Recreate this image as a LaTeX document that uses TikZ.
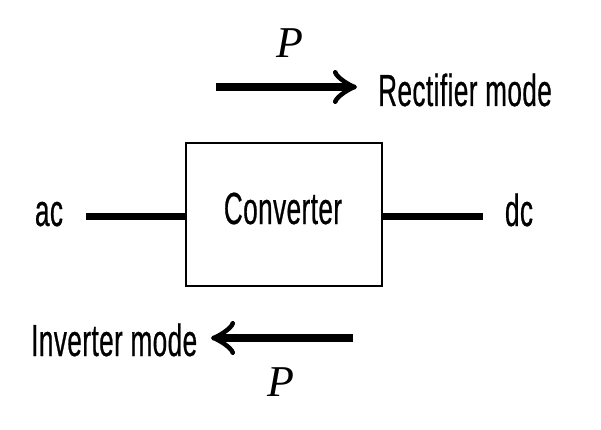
\documentclass[tikz,border=0pt]{standalone}
\usepackage{fontspec}
\usetikzlibrary{arrows.meta}
\newfontfamily\condfont[FakeStretch=0.58,FakeBold=0.5,LetterSpace=1]{Liberation Sans}
\newfontfamily\pserif{Liberation Serif}
\begin{document}
\begin{tikzpicture}[x=1pt,y=-1pt,
  lbl/.style={font=\condfont\fontsize{45}{48}\selectfont, inner sep=0pt},
  plbl/.style={font=\pserif\itshape\fontsize{44}{46}\selectfont, inner sep=0pt},
  wire/.style={line width=7pt},
  flow/.style={line width=7.5pt, -{Classical TikZ Rightarrow[length=24pt,width=34pt,line width=4.5pt]}},
  box/.style={draw, line width=2.5pt, minimum width=196pt, minimum height=143pt, inner sep=0pt}]
\useasboundingbox (0,0) rectangle (601,430);
% converter box
\node[box] (conv) at (284,214.5) {};
\node[lbl, anchor=base] (convtxt) at (283,224) {Converter};
% ac / dc
\node[lbl, anchor=base] (ac) at (49,226) {ac};
\node[lbl, anchor=base] (dc) at (519,226) {dc};
\coordinate (acend) at (86,216);
\coordinate (dcend) at (483,216);
\draw[wire] (acend) -- (acend -| conv.west);
\draw[wire] (dcend -| conv.east) -- (dcend);
% rectifier mode
\coordinate (r1) at (216,87);
\coordinate (r2) at (357,87);
\draw[flow] (r1) -- (r2);
\node[lbl, anchor=base west] (rect) at (378,106) {Rectifier mode};
\node[plbl, anchor=base] (ptop) at (290,58) {P};
% inverter mode
\coordinate (i1) at (353,338);
\coordinate (i2) at (211,338);
\draw[flow] (i1) -- (i2);
\node[lbl, anchor=base west] (inv) at (31,356) {Inverter mode};
\node[plbl, anchor=base] (pbot) at (281,396) {P};
\end{tikzpicture}
\end{document}
